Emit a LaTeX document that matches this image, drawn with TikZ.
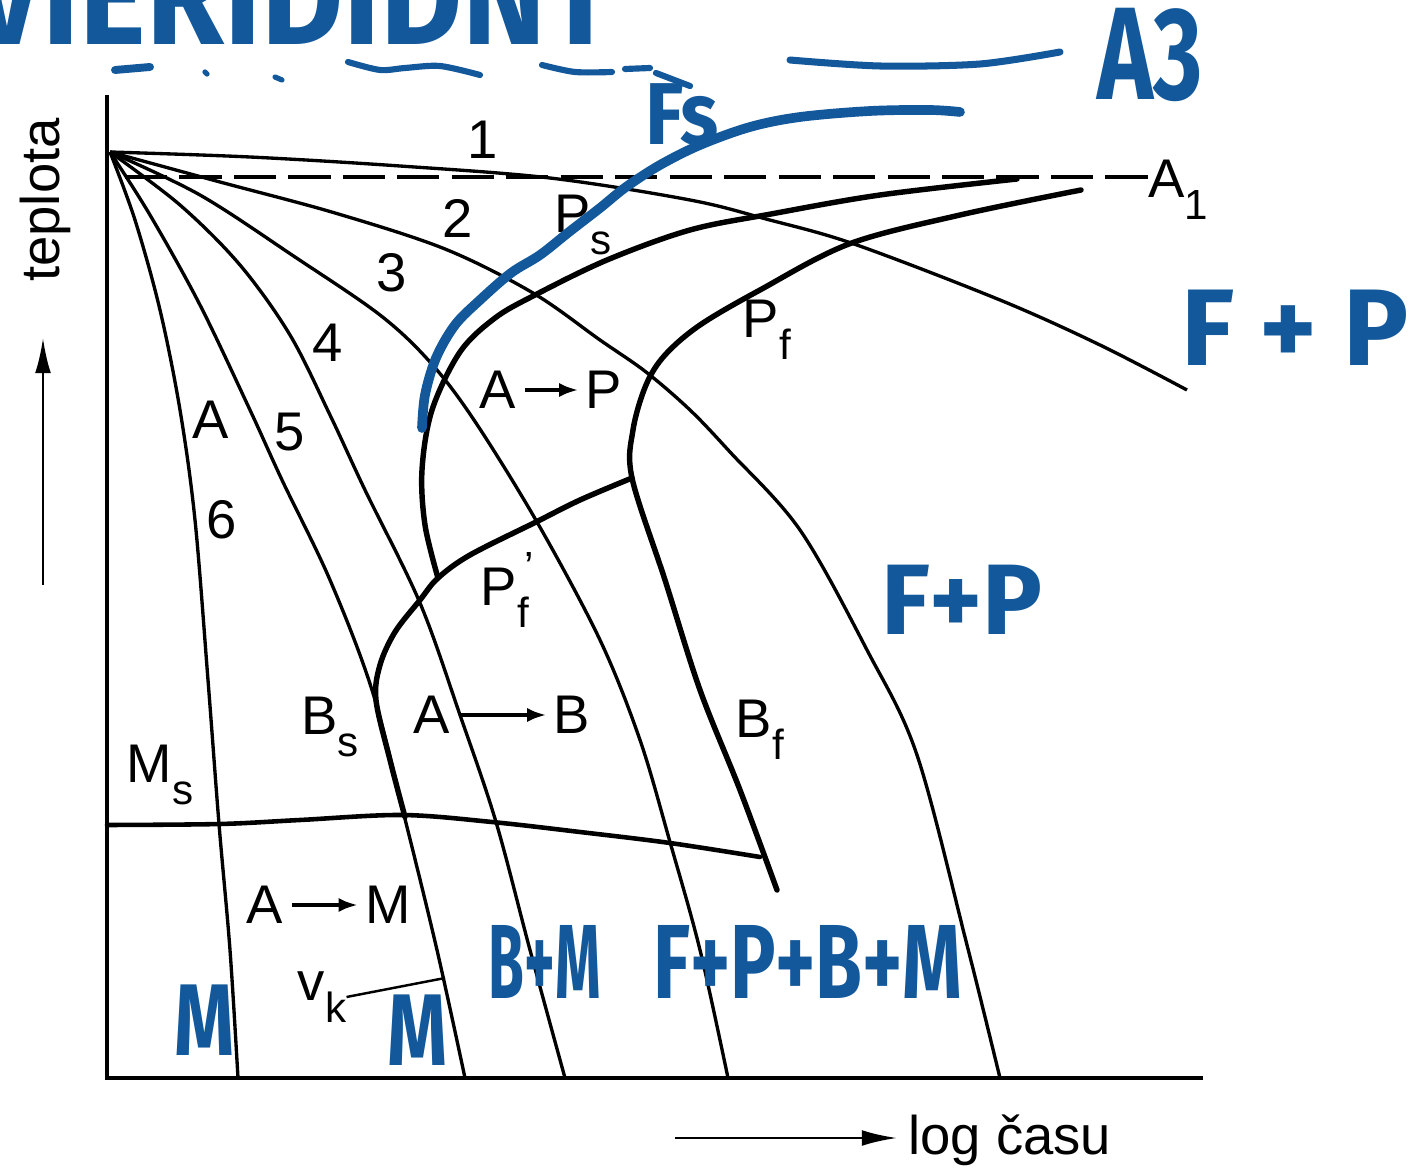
\documentclass[tikz,border=0pt]{standalone}
\usepackage{fontspec}
\usepackage{graphicx}
\setmainfont{Liberation Sans}
\newfontfamily\inkfont{Fira Sans}
\usetikzlibrary{arrows.meta,positioning}
\definecolor{penblue}{HTML}{12589B}
\newcommand{\lowidx}[2]{#1\raisebox{-0.4em}{\fontsize{24}{24}\selectfont #2}}
\newcommand{\lowidxp}[2]{#1\rlap{\raisebox{0.45em}{\fontsize{24}{24}\selectfont\,'}}\raisebox{-0.4em}{\fontsize{24}{24}\selectfont #2}}

\begin{document}
\begin{tikzpicture}[
    x=0.02cm, y=-0.02cm,
    cool/.style={line width=1.9pt, line join=round},
    trans/.style={line width=3.1pt, line join=round, line cap=round},
    axis/.style={line width=1.9pt},
    lbl/.style={font=\fontsize{31}{34}\selectfont, inner sep=0pt},
    lblarrow/.style={-{Latex[length=11pt,width=8pt]}, line width=2.4pt, shorten <=5pt, shorten >=4pt},
    axarrow/.style={-{Latex[length=20pt,width=9pt]}, line width=1.5pt},
    ink/.style={penblue, line width=5.5pt, line cap=round, line join=round},
    inklbl/.style={text=penblue, inner sep=0pt, font=\inkfont\bfseries\fontsize{#1}{#1}\selectfont}
]
\path[use as bounding box] (0,0) rectangle (1414,1172);
\clip (0,0) rectangle (1414,1172);

% axes
\coordinate (o) at (110,152);
\coordinate (ytop) at (107,95);
\coordinate (orig) at (107,1078);
\coordinate (xend) at (1203,1078);
\draw[axis] (ytop) -- (orig) -- (xend);

\node[lbl, rotate=90] (tep) at (45,200) {teplota};
\coordinate (tarr0) at (43,585);
\coordinate (tarr1) at (43,338);
\draw[axarrow] (tarr0) -- (tarr1);
\node[lbl, anchor=base west] (logt) at (908,1154) {log času};
\coordinate (larr0) at (675,1138);
\coordinate (larr1) at (897,1138);
\draw[axarrow] (larr0) -- (larr1);

% A1
\node[lbl, anchor=west] (a1) at (1148,190) {\lowidx{A}{1}};
\draw[cool, dash pattern=on 24pt off 7pt] (125,177) -- (a1.west |- 0,177);

% cooling curves 1..6
\draw[cool] plot[smooth, tension=0.55] coordinates {(o) (250,157) (400,166) (550,178) (690,200) (766,219) (854,244) (1000,300) (1100,345) (1187,390)};
\draw[cool] plot[smooth, tension=0.55] coordinates {(o) (220,182) (335,213) (445,249) (533,293) (600,340) (646,372) (690,410) (730,452) (800,530) (867,650) (917,755) (967,945) (1000,1078)};
\draw[cool] plot[smooth, tension=0.55] coordinates {(o) (200,195) (295,257) (380,315) (430,362) (474,420) (537,522) (600,640) (640,740) (670,842) (700,950) (728,1078)};
\draw[cool] plot[smooth, tension=0.55] coordinates {(o) (180,205) (240,265) (290,335) (330,415) (365,490) (420,603) (460,715) (496,822) (530,950) (565,1078)};
\draw[cool] plot[smooth, tension=0.55] coordinates {(o) (150,215) (200,305) (250,410) (282,480) (330,580) (372,690) (404,815) (437,950) (465,1078)};
\draw[cool] plot[smooth, tension=0.55] coordinates {(o) (135,220) (160,310) (180,410) (195,520) (208,680) (219,824) (230,950) (238,1078)};

% transformation lines
\draw[trans] plot[smooth, tension=0.55] coordinates {(438,578) (425,525) (422,470) (432,410) (460,352) (495,318) (535,295) (607,260) (690,230) (771,214) (880,195) (1017,179)};
\draw[trans] plot[smooth, tension=0.55] coordinates {(1081,190) (960,215) (849,244) (760,290) (700,325) (665,355) (646,385) (633,430) (632,478) (665,580) (700,690) (740,790) (777,890)};
\draw[trans] plot[smooth, tension=0.55] coordinates {(632,478) (580,500) (536,522) (470,555) (438,578) (420,600) (395,632) (380,665) (376,700) (390,760) (405,817)};
\draw[trans, line width=2.6pt] plot[smooth, tension=0.55] coordinates {(107,825) (220,824) (300,820) (402,815) (492,822) (580,832) (670,843) (760,857)};

% labels
\node[lbl] (n1) at (483,140) {1};
\node[lbl] (n2) at (458,218) {2};
\node[lbl] (n3) at (392,273) {3};
\node[lbl] (n4) at (328,343) {4};
\node[lbl] (n5) at (290,432) {5};
\node[lbl] (n6) at (222,520) {6};
\node[lbl] (aus) at (211,420) {A};
\node[lbl] (ps) at (583,225) {\lowidx{P}{s}};
\node[lbl] (pf) at (767,330) {\lowidx{P}{f}};
\node[lbl] (pfp) at (505,590) {\lowidxp{P}{f}};
\node[lbl] (bs) at (330,727) {\lowidx{B}{s}};
\node[lbl] (bf) at (760,730) {\lowidx{B}{f}};
\node[lbl] (ms) at (160,775) {\lowidx{M}{s}};
\node[lbl] (apa) at (498,390) {A};
\node[lbl] (app) at (604,390) {P};
\draw[lblarrow] (apa) -- (app);
\node[lbl] (aba) at (432,715) {A};
\node[lbl] (abb) at (572,715) {B};
\draw[lblarrow] (aba) -- (abb);
\node[lbl] (ama) at (265,905) {A};
\node[lbl] (amm) at (388,905) {M};
\draw[lblarrow] (ama) -- (amm);
\node[lbl] (vk) at (322,997) {\lowidx{v}{k}};
\coordinate (vktip) at (445,978);
\draw[cool, line width=1.4pt] (vk.east) -- (vktip);

% blue pen notes
\node[inklbl=80, anchor=base west] (head) at (-30,45) {\scalebox{0.9}[1]{VIERIDIDNT}};
\draw[ink, line width=4.5pt] (115,70) -- (150,67);
\draw[ink, line width=3pt] (205,72) -- (207,74);
\draw[ink, line width=3pt] (275,77) -- (282,80);
\draw[ink, line width=3.5pt] plot[smooth] coordinates {(348,62) (380,70) (405,68) (440,66) (480,75)};
\draw[ink, line width=3.5pt] plot[smooth] coordinates {(542,65) (575,72) (612,72)};
\draw[ink, line width=3.5pt] (625,69) -- (650,68);
\draw[ink, line width=3.5pt] (656,73) -- (690,86);
\draw[ink, line width=4pt] plot[smooth] coordinates {(790,60) (880,66) (980,64) (1060,52)};
\node[inklbl=75] (a3) at (1150,55) {\scalebox{0.72}[1]{A3}};
\node[inklbl=50] (fs) at (682,115) {\scalebox{0.9}[1]{Fs}};
\draw[ink] plot[smooth, tension=0.55] coordinates {(422,428) (425,395) (436,358) (455,325) (480,300) (511,273) (540,255) (569,232) (600,208) (626,187) (660,165) (700,145) (750,127) (800,117) (870,111) (930,110) (960,112)};
\node[inklbl=62] (fp1) at (1295,328) {F + P};
\node[inklbl=57] (fp2) at (962,600) {F+P};
\node[inklbl=60] (bm) at (545,962) {\scalebox{0.55}[1]{B+M}};
\node[inklbl=60] (fpbm) at (808,962) {\scalebox{0.72}[1]{F+P+B+M}};
\node[inklbl=58] (m1) at (205,1020) {\scalebox{0.75}[1]{M}};
\node[inklbl=58] (m2) at (418,1030) {\scalebox{0.75}[1]{M}};
\end{tikzpicture}
\end{document}
